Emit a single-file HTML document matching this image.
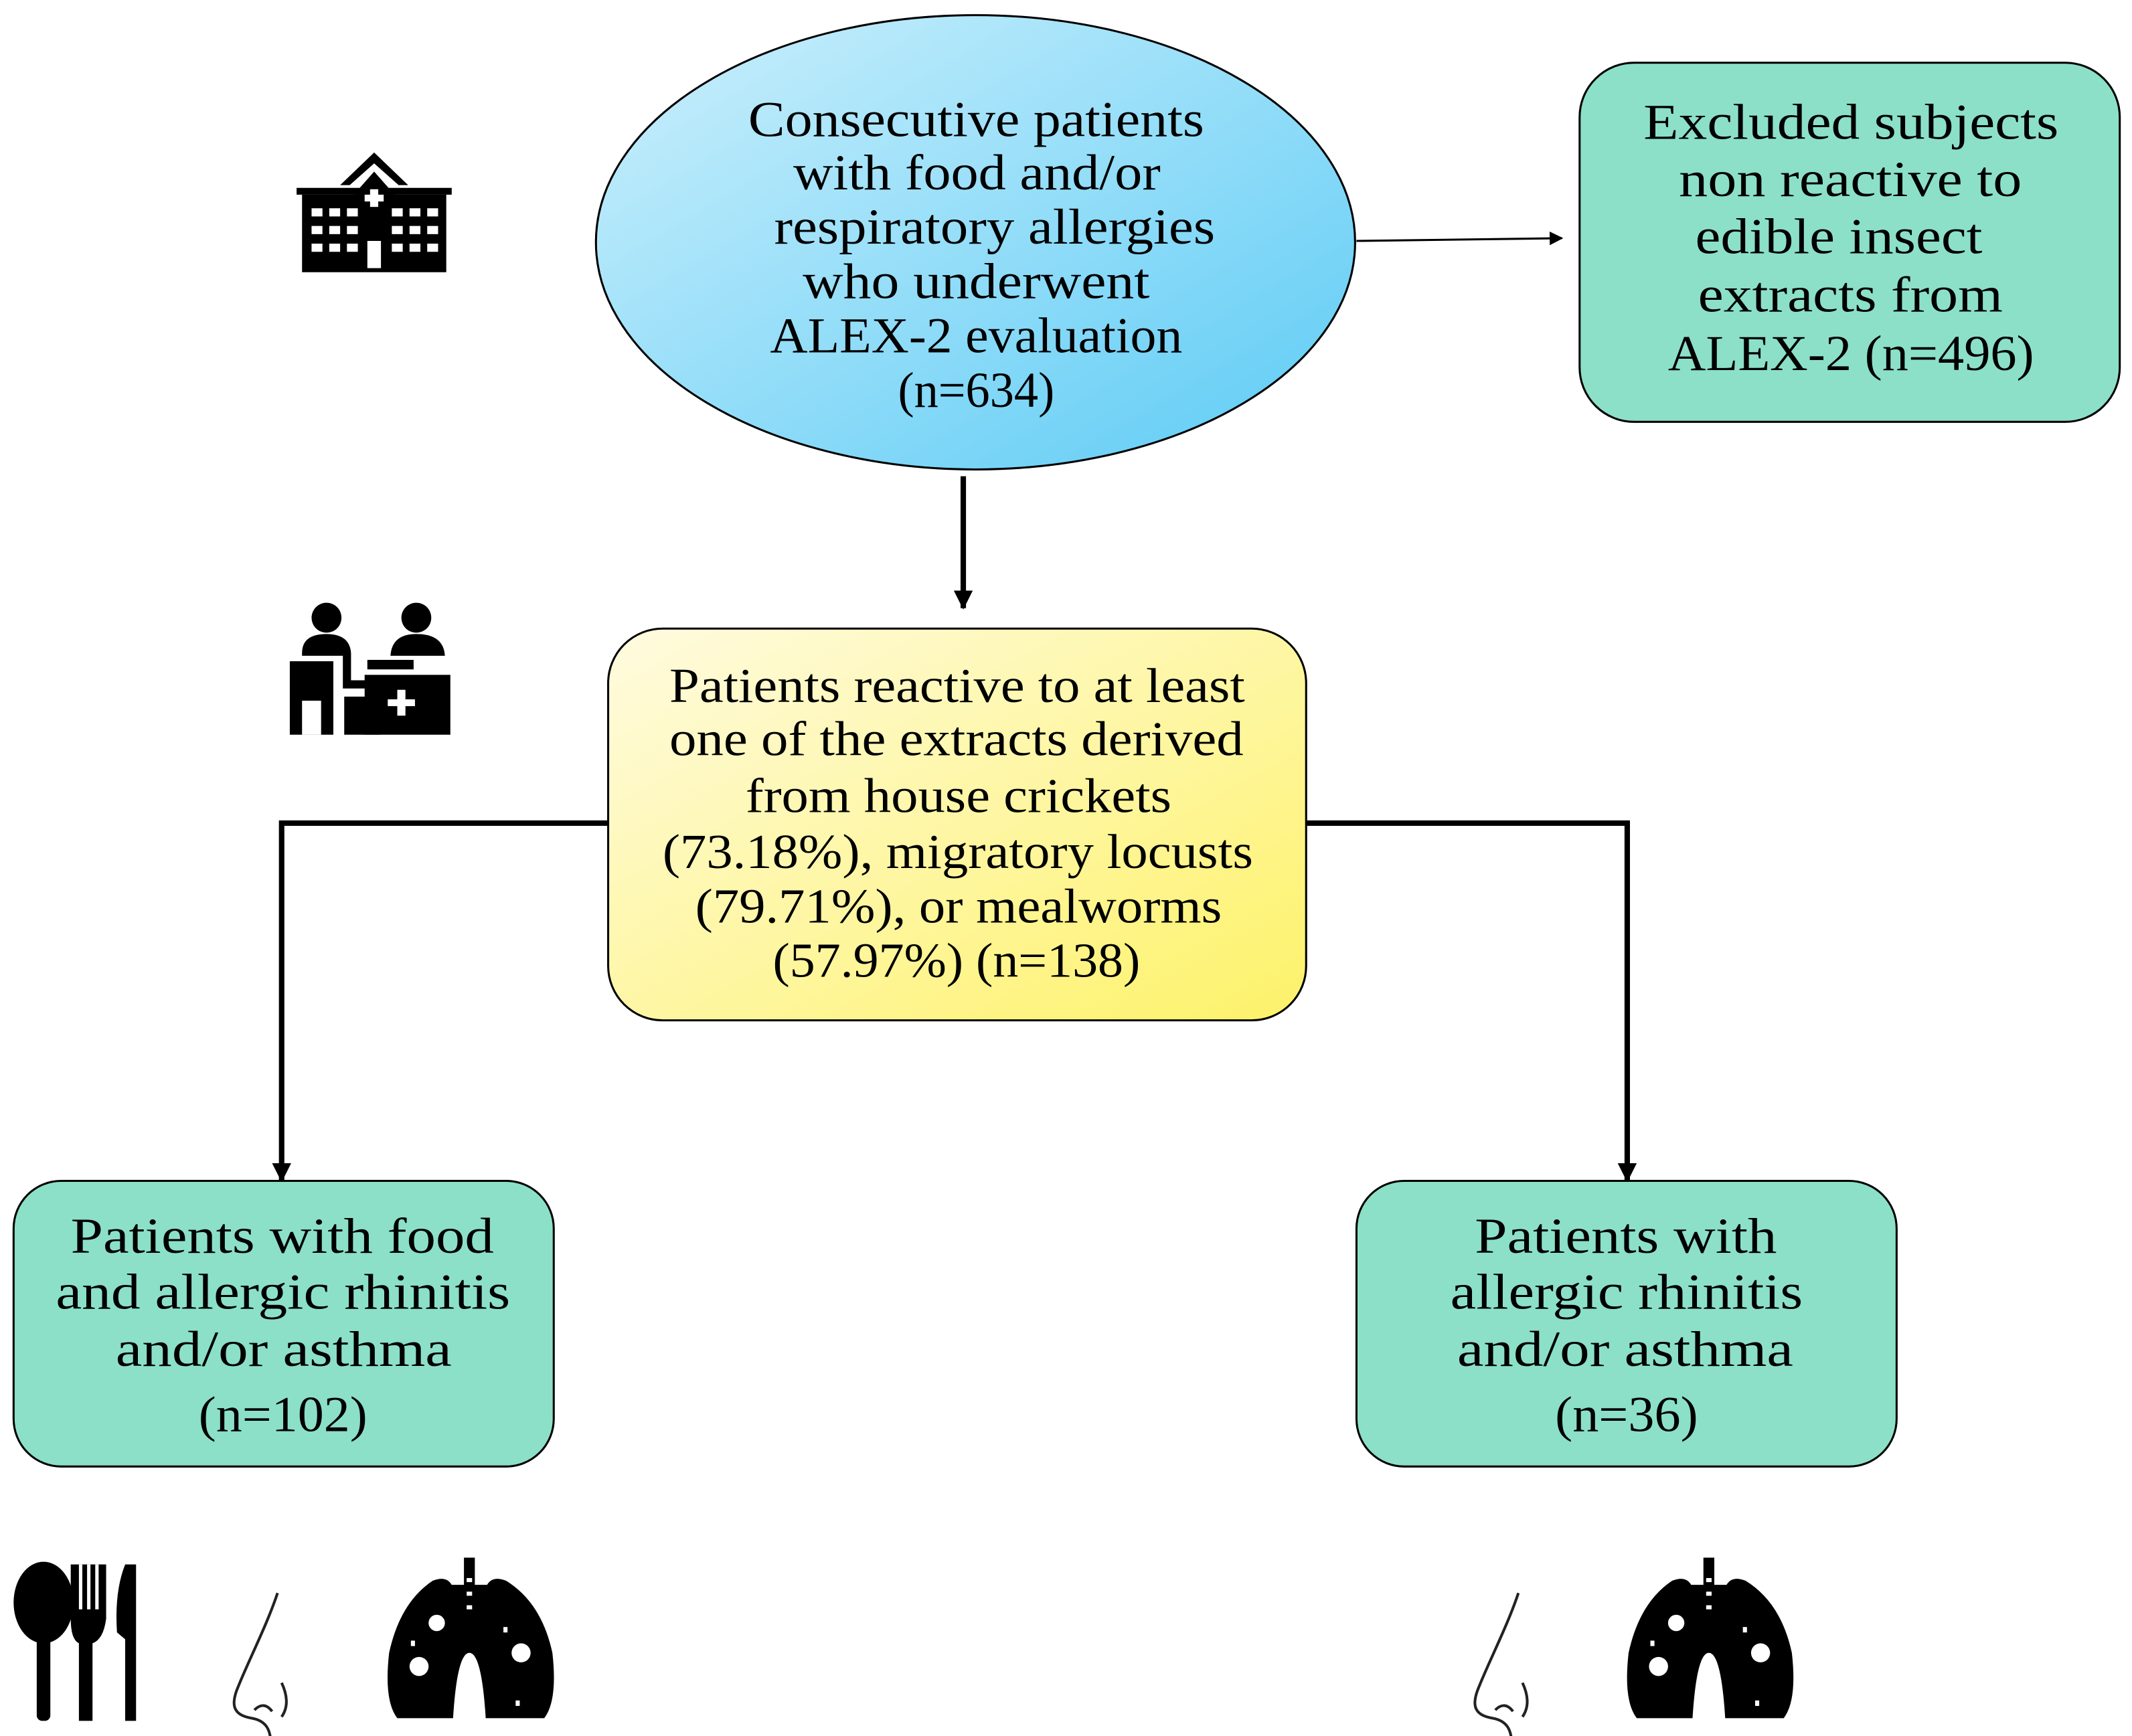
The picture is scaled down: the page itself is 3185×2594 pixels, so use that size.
<!DOCTYPE html>
<html><head><meta charset="utf-8"><style>html,body{margin:0;padding:0;background:#fff}svg{display:block}</style></head>
<body>
<svg width="3185" height="2594" viewBox="0 0 1567 1276" xmlns="http://www.w3.org/2000/svg" font-family="'Liberation Serif', serif">
<defs>
<linearGradient id="gb" x1="0" y1="0" x2="1" y2="1"><stop offset="0" stop-color="#cdf0fc"/><stop offset="1" stop-color="#5ccbf5"/></linearGradient>
<linearGradient id="gy" x1="0" y1="0" x2="1" y2="1"><stop offset="0" stop-color="#fffbe0"/><stop offset="1" stop-color="#fdf269"/></linearGradient>
<marker id="ah" markerWidth="10" markerHeight="10" refX="9" refY="5" orient="auto" markerUnits="userSpaceOnUse"><path d="M0,0 L10,5 L0,10 z" fill="#000"/></marker>
<marker id="ah2" markerWidth="14" markerHeight="14" refX="13" refY="7" orient="auto" markerUnits="userSpaceOnUse"><path d="M0,0 L14,7 L0,14 z" fill="#000"/></marker>
</defs>
<line x1="997" y1="177" x2="1148" y2="175" stroke="#000" stroke-width="1.5" marker-end="url(#ah)"/>
<line x1="708" y1="350" x2="708" y2="447" stroke="#000" stroke-width="4" marker-end="url(#ah2)"/>
<polyline points="447,605 207,605 207,868" fill="none" stroke="#000" stroke-width="4" marker-end="url(#ah2)"/>
<polyline points="960,605 1196,605 1196,868" fill="none" stroke="#000" stroke-width="4" marker-end="url(#ah2)"/>
<ellipse cx="717" cy="178" rx="279" ry="167" fill="url(#gb)" stroke="#000" stroke-width="1.5"/>
<g font-size="37" fill="#000" lengthAdjust="spacingAndGlyphs">
<text x="550" y="100" textLength="335" lengthAdjust="spacingAndGlyphs">Consecutive patients</text>
<text x="583" y="139" textLength="270" lengthAdjust="spacingAndGlyphs">with food and/or</text>
<text x="569" y="179" textLength="324" lengthAdjust="spacingAndGlyphs">respiratory allergies</text>
<text x="590" y="219" textLength="255" lengthAdjust="spacingAndGlyphs">who underwent</text>
<text x="566" y="259" textLength="303" lengthAdjust="spacingAndGlyphs">ALEX-2 evaluation</text>
<text x="660" y="299" textLength="115" lengthAdjust="spacingAndGlyphs">(n=634)</text>
</g>
<rect x="1161" y="46" width="397" height="264" rx="40" fill="#8ce0c8" stroke="#000" stroke-width="1.5"/>
<g font-size="37">
<text x="1208" y="102" textLength="305" lengthAdjust="spacingAndGlyphs">Excluded subjects</text>
<text x="1234" y="144" textLength="252" lengthAdjust="spacingAndGlyphs">non reactive to</text>
<text x="1246" y="186" textLength="211" lengthAdjust="spacingAndGlyphs">edible insect</text>
<text x="1248" y="229" textLength="224" lengthAdjust="spacingAndGlyphs">extracts from</text>
<text x="1226" y="272" textLength="269" lengthAdjust="spacingAndGlyphs">ALEX-2 (n=496)</text>
</g>
<rect x="447" y="462" width="513" height="288" rx="40" fill="url(#gy)" stroke="#000" stroke-width="1.5"/>
<g font-size="36">
<text x="492" y="516" textLength="423" lengthAdjust="spacingAndGlyphs">Patients reactive to at least</text>
<text x="492" y="555" textLength="422" lengthAdjust="spacingAndGlyphs">one of the extracts derived</text>
<text x="548" y="597" textLength="313" lengthAdjust="spacingAndGlyphs">from house crickets</text>
<text x="487" y="638" textLength="434" lengthAdjust="spacingAndGlyphs">(73.18%), migratory locusts</text>
<text x="511" y="678" textLength="387" lengthAdjust="spacingAndGlyphs">(79.71%), or mealworms</text>
<text x="568" y="718" textLength="270" lengthAdjust="spacingAndGlyphs">(57.97%)  (n=138)</text>
</g>
<rect x="10" y="868" width="397" height="210" rx="35" fill="#8ce0c8" stroke="#000" stroke-width="1.5"/>
<g font-size="37">
<text x="52" y="921" textLength="311" lengthAdjust="spacingAndGlyphs">Patients with food</text>
<text x="41" y="962" textLength="334" lengthAdjust="spacingAndGlyphs">and allergic rhinitis</text>
<text x="85" y="1004" textLength="247" lengthAdjust="spacingAndGlyphs">and/or asthma</text>
<text x="146" y="1052" textLength="124" lengthAdjust="spacingAndGlyphs">(n=102)</text>
</g>
<rect x="997" y="868" width="397" height="210" rx="35" fill="#8ce0c8" stroke="#000" stroke-width="1.5"/>
<g font-size="37">
<text x="1084" y="921" textLength="222" lengthAdjust="spacingAndGlyphs">Patients with</text>
<text x="1066" y="962" textLength="259" lengthAdjust="spacingAndGlyphs">allergic rhinitis</text>
<text x="1071" y="1004" textLength="247" lengthAdjust="spacingAndGlyphs">and/or asthma</text>
<text x="1143" y="1052" textLength="105" lengthAdjust="spacingAndGlyphs">(n=36)</text>
</g>
<!-- hospital icon -->
<g fill="#000">
<path d="M250,136 L275,112 L300,136 L293,136 L275,120 L257,136 z"/>
<rect x="218" y="138" width="114" height="5"/>
<rect x="222" y="143" width="106" height="57"/>
<path d="M260,143 L275,126 L290,143 z"/>
</g>
<g fill="#fff">
<rect x="229" y="153" width="8" height="6"/><rect x="242" y="153" width="8" height="6"/><rect x="255" y="153" width="8" height="6"/>
<rect x="229" y="166" width="8" height="6"/><rect x="242" y="166" width="8" height="6"/><rect x="255" y="166" width="8" height="6"/>
<rect x="229" y="179" width="8" height="6"/><rect x="242" y="179" width="8" height="6"/><rect x="255" y="179" width="8" height="6"/>
<rect x="288" y="153" width="8" height="6"/><rect x="301" y="153" width="8" height="6"/><rect x="314" y="153" width="8" height="6"/>
<rect x="288" y="166" width="8" height="6"/><rect x="301" y="166" width="8" height="6"/><rect x="314" y="166" width="8" height="6"/>
<rect x="288" y="179" width="8" height="6"/><rect x="301" y="179" width="8" height="6"/><rect x="314" y="179" width="8" height="6"/>
<rect x="270" y="177" width="10" height="20"/>
<rect x="268" y="143" width="14" height="5"/><rect x="272" y="139" width="6" height="13"/>
</g>
<!-- people icon -->
<g fill="#000">
<circle cx="240" cy="454" r="11"/>
<path d="M222,480 Q222,466 240,466 Q257,466 258,480 L258,500 L276,500 L276,506 L252,506 L252,482 L222,482 z"/>
<rect x="213" y="486" width="32" height="54"/>
<rect x="253" y="512" width="26" height="28"/>
<circle cx="306" cy="454" r="11"/>
<path d="M287,482 Q288,466 306,466 Q326,466 327,482 z"/>
<rect x="270" y="485" width="34" height="7"/>
<rect x="268" y="496" width="63" height="44"/>
</g>
<g fill="#fff"><rect x="222" y="515" width="14" height="25"/><rect x="285" y="514" width="20" height="5"/><rect x="292" y="507" width="6" height="19"/></g>
<!-- cutlery -->
<g fill="#000">
<ellipse cx="32" cy="1178" rx="22" ry="30"/><rect x="27" y="1200" width="10" height="65" rx="4"/>
<path d="M52,1150 L78,1150 L78,1190 Q76,1205 68,1208 L68,1265 L58,1265 L58,1208 Q52,1205 52,1190 z"/>
<path d="M92,1150 L100,1150 L100,1265 L92,1265 L92,1205 L86,1200 Q84,1170 92,1150 z"/>
</g>
<g fill="#fff"><rect x="58" y="1150" width="2.5" height="33"/><rect x="64" y="1150" width="2.5" height="33"/><rect x="70" y="1150" width="2.5" height="33"/></g>
<!-- noses -->
<g id="nose" fill="none" stroke="#222" stroke-width="2">
<path d="M204,1171 C196,1195 183,1220 175,1240 C169,1254 172,1261 185,1263 C196,1265 199,1272 199,1282"/>
<path d="M187,1257 Q194,1250 200,1258 M207,1237 Q214,1252 207,1262"/>
</g>
<use href="#nose" transform="translate(912,0)"/>
<!-- lungs -->
<g id="lung">
<path fill="#000" d="M341,1145 L349,1145 L349,1165 L358,1165 Q362,1158 372,1162 Q398,1178 406,1215 Q410,1250 400,1263 L357,1263 Q354,1215 345,1215 Q336,1215 333,1263 L292,1263 Q282,1250 286,1215 Q294,1178 318,1162 Q328,1158 332,1165 L341,1165 z"/>
<rect x="341" y="1165" width="8" height="40" fill="#000"/>
<g fill="#fff"><circle cx="321" cy="1193" r="6"/><circle cx="308" cy="1225" r="7"/><circle cx="383" cy="1215" r="7"/><rect x="343" y="1160" width="4" height="3"/><rect x="343" y="1170" width="4" height="3"/><rect x="343" y="1180" width="4" height="3"/><rect x="302" y="1206" width="3" height="4"/><rect x="370" y="1196" width="3" height="4"/><rect x="379" y="1250" width="3" height="4"/></g>
</g>
<use href="#lung" transform="translate(911,0)"/>
</svg>
</body></html>
